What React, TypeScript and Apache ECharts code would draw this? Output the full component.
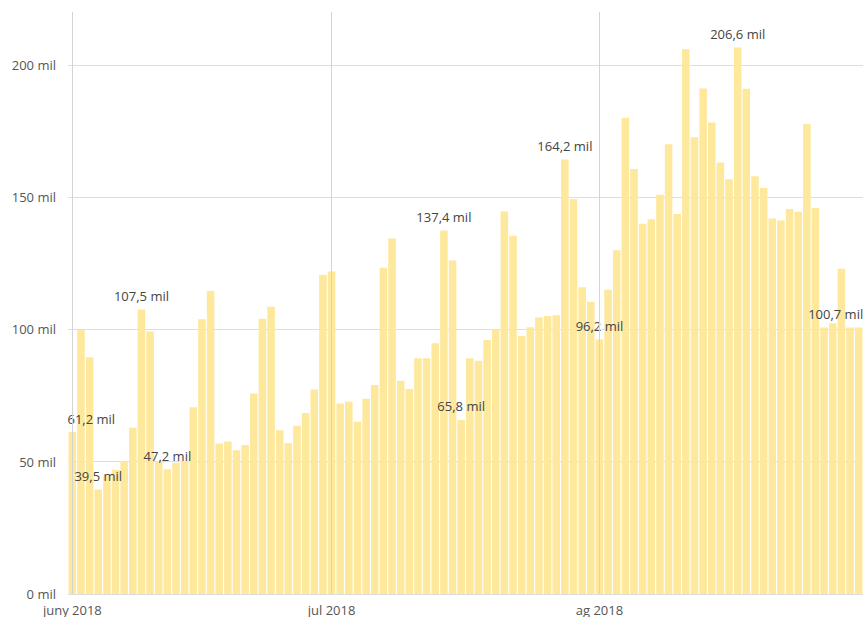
import React, { useEffect, useRef } from "react";
import * as echarts from "echarts";

// Daily values (thousands, "mil") from 1 Jun 2018 to 31 Aug 2018
const juneValues = [
  61.2, 99.8, 89.5, 39.5, 44.5, 47.0, 50.3, 62.8, 107.5, 99.2,
  50.3, 47.2, 49.6, 50.3, 70.6, 103.9, 114.5, 56.9, 57.6, 54.3,
  56.3, 75.8, 104.0, 108.6, 61.9, 57.0, 63.6, 68.4, 77.3, 120.6,
];
const julyValues = [
  121.9, 72.0, 72.7, 65.1, 73.8, 79.0, 123.3, 134.4, 80.6, 77.5,
  89.1, 89.1, 94.8, 137.4, 126.1, 65.8, 89.1, 88.2, 96.0, 100.1,
  144.6, 135.4, 97.5, 100.8, 104.5, 105.1, 105.4, 164.2, 149.3, 116.0,
  110.5,
];
const augustValues = [
  96.2, 115.0, 129.9, 180.0, 160.7, 140.0, 141.7, 150.9, 170.0, 143.6,
  205.9, 172.7, 191.1, 178.2, 163.1, 156.8, 206.6, 191.0, 157.9, 153.5,
  141.9, 141.2, 145.5, 144.5, 177.7, 145.9, 100.7, 102.3, 122.9, 100.7,
  100.7,
];

const months = ["06", "07", "08"];
const monthStarts = ["2018-06-01", "2018-07-01", "2018-08-01"];
const monthLabels = ["juny 2018", "jul 2018", "ag 2018"];

// indices of bars carrying a data label
const labeledIndices = [0, 3, 8, 11, 43, 45, 57, 61, 77, 91];
const yTicks = [0, 50, 100, 150, 200];

const monthValues = [juneValues, julyValues, augustValues];
const categories: string[] = [];
const values: number[] = [];
monthValues.forEach((arr, m) => {
  arr.forEach((v, i) => {
    categories.push(`2018-${months[m]}-${String(i + 1).padStart(2, "0")}`);
    values.push(v);
  });
});

const fmt = (v: number) => v.toFixed(1).replace(".", ",") + " mil";

export default function App() {
  const ref = useRef<HTMLDivElement>(null);
  useEffect(() => {
    if (!ref.current) return;
    const chart = echarts.init(ref.current, undefined, { renderer: "svg" });
    const font = "'Open Sans', 'Noto Sans', sans-serif";
    const lastIdx = values.length - 1;
    const data = values.map((v, i) => {
      if (!labeledIndices.includes(i)) return v;
      let offset = [0, 0];
      if (i === 0) offset = [19, 0];
      if (i === lastIdx) offset = [-23, 0];
      return {
        value: v,
        label: {
          show: true,
          position: "top",
          distance: 7,
          offset,
          formatter: (p: any) => fmt(p.value),
          color: "#444",
          fontSize: 13,
          fontFamily: font,
        },
      };
    });
    const gridColor = "#dedede";
    chart.setOption({
      animation: false,
      grid: { left: 68, right: 0, top: 12, bottom: 23, containLabel: false },
      xAxis: {
        type: "category",
        data: categories,
        boundaryGap: true,
        axisLine: { show: false },
        axisTick: { show: false },
        splitLine: { show: false },
        axisLabel: {
          interval: (_i: number, value: string) => monthStarts.includes(value),
          formatter: (value: string) => {
            const k = monthStarts.indexOf(value);
            return k >= 0 ? monthLabels[k] : "";
          },
          color: "#555",
          fontSize: 13,
          fontFamily: font,
          margin: 9,
        },
      },
      yAxis: {
        type: "value",
        min: yTicks[0],
        max: 220,
        interval: 50,
        axisLine: { show: false },
        axisTick: { show: false },
        axisLabel: {
          formatter: (v: number) => `${v} mil`,
          showMaxLabel: false,
          color: "#555",
          fontSize: 13,
          fontFamily: font,
          margin: 12,
          verticalAlign: "middle",
        },
        splitLine: {
          show: true,
          lineStyle: {
            color: [gridColor, gridColor, gridColor, gridColor, gridColor, "rgba(0,0,0,0)"],
            width: 1,
          },
        },
      },
      series: [
        {
          type: "line",
          data: [],
          z: 1,
          silent: true,
          markLine: {
            silent: true,
            symbol: ["none", "none"],
            label: { show: false },
            lineStyle: { color: "#d4d4d4", type: "solid", width: 1 },
            data: monthStarts.map((d) => ({ xAxis: d })),
          },
        },
        {
          type: "bar",
          z: 2,
          data,
          barCategoryGap: "13%",
          itemStyle: { color: "#FDE89B" },
        },
      ],
    });
    return () => chart.dispose();
  }, []);
  return (
    <div
      ref={ref}
      style={{ position: "absolute", left: 0, top: 0, width: 863, height: 617 }}
    />
  );
}
